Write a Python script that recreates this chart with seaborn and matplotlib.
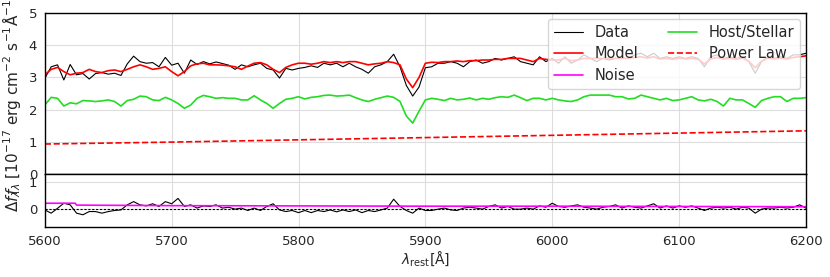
import numpy as np
import pandas as pd
import matplotlib
matplotlib.use("Agg")
import matplotlib.pyplot as plt
import seaborn as sns

# wavelength grid of the sampled spectrum (Angstrom, rest frame)
wave = np.arange(5600, 6205, 5)

data_flux = [
    2.97, 3.33, 3.39, 2.92, 3.40, 3.08, 3.12, 2.95, 3.12, 3.15,
    3.10, 3.13, 3.06, 3.42, 3.66, 3.49, 3.44, 3.46, 3.33, 3.62,
    3.38, 3.44, 3.13, 3.54, 3.40, 3.49, 3.42, 3.48, 3.43, 3.38,
    3.25, 3.39, 3.33, 3.39, 3.44, 3.28, 3.23, 2.98, 3.28, 3.23,
    3.28, 3.31, 3.36, 3.31, 3.44, 3.39, 3.44, 3.33, 3.44, 3.33,
    3.25, 3.13, 3.33, 3.39, 3.49, 3.72, 3.33, 2.75, 2.42, 2.70,
    3.30, 3.33, 3.44, 3.44, 3.49, 3.44, 3.33, 3.49, 3.54, 3.44,
    3.49, 3.59, 3.54, 3.59, 3.64, 3.49, 3.44, 3.39, 3.64, 3.49,
    3.59, 3.44, 3.64, 3.44, 3.54, 3.70, 3.59, 3.49, 3.59, 3.54,
    3.59, 3.59, 3.59, 3.70, 3.75, 3.64, 3.75, 3.59, 3.64, 3.59,
    3.64, 3.59, 3.64, 3.59, 3.33, 3.64, 3.70, 3.59, 3.64, 3.59,
    3.64, 3.49, 3.13, 3.49, 3.64, 3.59, 3.64, 3.59, 3.70, 3.70,
    3.75,
]

model_flux = [
    3.08, 3.25, 3.31, 3.18, 3.08, 3.13, 3.15, 3.25, 3.18, 3.15,
    3.21, 3.23, 3.18, 3.25, 3.33, 3.39, 3.33, 3.25, 3.28, 3.33,
    3.18, 3.05, 3.18, 3.36, 3.42, 3.44, 3.39, 3.39, 3.38, 3.36,
    3.33, 3.25, 3.35, 3.44, 3.46, 3.39, 3.25, 3.15, 3.31, 3.39,
    3.44, 3.44, 3.41, 3.44, 3.49, 3.46, 3.49, 3.46, 3.49, 3.49,
    3.44, 3.39, 3.42, 3.44, 3.49, 3.46, 3.39, 2.95, 2.68, 3.00,
    3.44, 3.47, 3.46, 3.49, 3.49, 3.51, 3.49, 3.52, 3.52, 3.54,
    3.54, 3.56, 3.56, 3.59, 3.59, 3.59, 3.54, 3.49, 3.59, 3.56,
    3.54, 3.54, 3.59, 3.52, 3.54, 3.59, 3.59, 3.59, 3.59, 3.59,
    3.59, 3.59, 3.59, 3.62, 3.64, 3.60, 3.64, 3.57, 3.59, 3.56,
    3.60, 3.57, 3.59, 3.56, 3.42, 3.57, 3.62, 3.57, 3.59, 3.56,
    3.60, 3.50, 3.30, 3.50, 3.60, 3.57, 3.60, 3.57, 3.62, 3.64,
    3.67,
]

host_flux = [
    2.14, 2.38, 2.35, 2.11, 2.21, 2.18, 2.28, 2.27, 2.25, 2.27,
    2.30, 2.25, 2.11, 2.28, 2.32, 2.42, 2.40, 2.30, 2.28, 2.38,
    2.30, 2.19, 2.04, 2.14, 2.35, 2.44, 2.40, 2.35, 2.37, 2.35,
    2.35, 2.30, 2.30, 2.43, 2.30, 2.19, 2.04, 2.19, 2.32, 2.35,
    2.40, 2.33, 2.38, 2.40, 2.44, 2.45, 2.42, 2.43, 2.45, 2.37,
    2.30, 2.25, 2.32, 2.37, 2.42, 2.38, 2.25, 1.80, 1.58, 1.95,
    2.30, 2.35, 2.32, 2.28, 2.35, 2.30, 2.32, 2.36, 2.30, 2.35,
    2.32, 2.37, 2.40, 2.38, 2.45, 2.37, 2.28, 2.35, 2.35, 2.30,
    2.35, 2.30, 2.27, 2.25, 2.30, 2.40, 2.45, 2.45, 2.45, 2.45,
    2.40, 2.40, 2.33, 2.35, 2.45, 2.40, 2.35, 2.30, 2.35, 2.28,
    2.30, 2.35, 2.40, 2.30, 2.27, 2.32, 2.25, 2.11, 2.35, 2.30,
    2.30, 2.19, 2.07, 2.28, 2.35, 2.40, 2.40, 2.25, 2.35, 2.35,
    2.37,
]

resid = [
    -0.04, -0.16, 0.02, 0.21, 0.15, -0.16, -0.22, -0.10, -0.10, -0.16,
    -0.10, -0.06, -0.04, 0.15, 0.27, 0.15, 0.11, 0.19, 0.09, 0.27,
    0.19, 0.39, 0.09, 0.15, 0.03, 0.11, 0.09, 0.15, 0.03, 0.06,
    -0.01, 0.03, -0.06, 0.03, -0.06, 0.09, 0.19, -0.04, -0.10, -0.06,
    -0.14, -0.06, -0.14, -0.06, -0.10, -0.04, -0.11, -0.04, -0.10, -0.04,
    -0.14, -0.06, -0.10, -0.04, 0.03, 0.36, 0.09, -0.06, -0.16, 0.03,
    -0.06, -0.06, -0.01, 0.03, -0.04, -0.06, 0.03, 0.06, 0.03, -0.01,
    0.09, 0.15, 0.03, 0.09, -0.01, -0.01, 0.03, -0.01, 0.11, 0.06,
    0.21, 0.09, 0.06, 0.11, 0.15, 0.06, 0.03, -0.01, 0.06, 0.09,
    0.15, 0.03, 0.11, 0.06, 0.03, 0.11, 0.19, 0.03, 0.11, 0.03,
    0.11, 0.06, 0.11, 0.03, -0.06, 0.03, 0.06, 0.03, 0.06, -0.01,
    0.06, 0.03, -0.16, -0.01, 0.03, 0.03, 0.06, 0.03, 0.06, 0.15,
    0.03,
]

noise_wave = [5600, 5624, 5625, 5700, 5800, 5900, 6000, 6100, 6200]
noise = [0.21, 0.21, 0.14, 0.12, 0.11, 0.10, 0.10, 0.09, 0.08]

pl_wave = [5600, 5700, 5800, 5900, 6000, 6100, 6200]
power_law = [0.93, 0.99, 1.06, 1.13, 1.20, 1.27, 1.34]

sns.set_style("whitegrid", {"axes.edgecolor": "black", "grid.color": "#dddddd"})
plt.rcParams["font.family"] = ["DejaVu Sans"]

fig = plt.figure(figsize=(8.3, 2.77), dpi=100)
ax = fig.add_axes([0.054, 0.372, 0.917, 0.581])
axr = fig.add_axes([0.054, 0.181, 0.917, 0.191], sharex=ax)

sns.lineplot(x=wave, y=data_flux, ax=ax, color="black", lw=0.8, label="Data")
sns.lineplot(x=wave, y=model_flux, ax=ax, color="red", lw=1.2, label="Model")
sns.lineplot(x=wave, y=host_flux, ax=ax, color="#22dd22", lw=1.2, label="Host/Stellar")
sns.lineplot(x=pl_wave, y=power_law, ax=ax, color="red", lw=1.2, ls="--", label="Power Law")

sns.lineplot(x=wave, y=resid, ax=axr, color="black", lw=0.8)
sns.lineplot(x=noise_wave, y=noise, ax=axr, color="magenta", lw=1.2)
axr.axhline(0, color="black", lw=0.8, ls=(0, (2, 1.5)))

ax.set_xlim(5600, 6200)
ax.set_ylim(0, 5)
ax.set_yticks([0, 1, 2, 3, 4, 5])
ax.tick_params(labelbottom=False, labelsize=9.5, pad=2)
ax.set_ylabel(r"$f_\lambda$ [$10^{-17}$ erg cm$^{-2}$ s$^{-1}$Å$^{-1}$]", fontsize=11)

axr.set_ylim(-0.67, 1.3)
axr.set_yticks([0, 1])
axr.set_xticks([5600, 5700, 5800, 5900, 6000, 6100, 6200])
axr.tick_params(labelsize=9.5, pad=2)
axr.set_ylabel(r"$\Delta f_\lambda$", fontsize=11)
axr.set_xlabel(r"$\lambda_{\rm rest}$[Å]", fontsize=10, labelpad=1)

for a in (ax, axr):
    for s in a.spines.values():
        s.set_linewidth(1.0)

# legend: put the noise swatch in the top panel's legend
h, l = ax.get_legend_handles_labels()
noise_handle = axr.get_lines()[1]
order = [h[0], h[1], noise_handle, h[2], h[3]]
labels = ["Data", "Model", "Noise", "Host/Stellar", "Power Law"]
ax.legend(order, labels, loc="upper right", ncol=2, fontsize=10.5,
          framealpha=0.8, handlelength=2.0, labelspacing=0.45, columnspacing=2.0,
          borderaxespad=0.4)

fig.savefig("out.png", dpi=100)
